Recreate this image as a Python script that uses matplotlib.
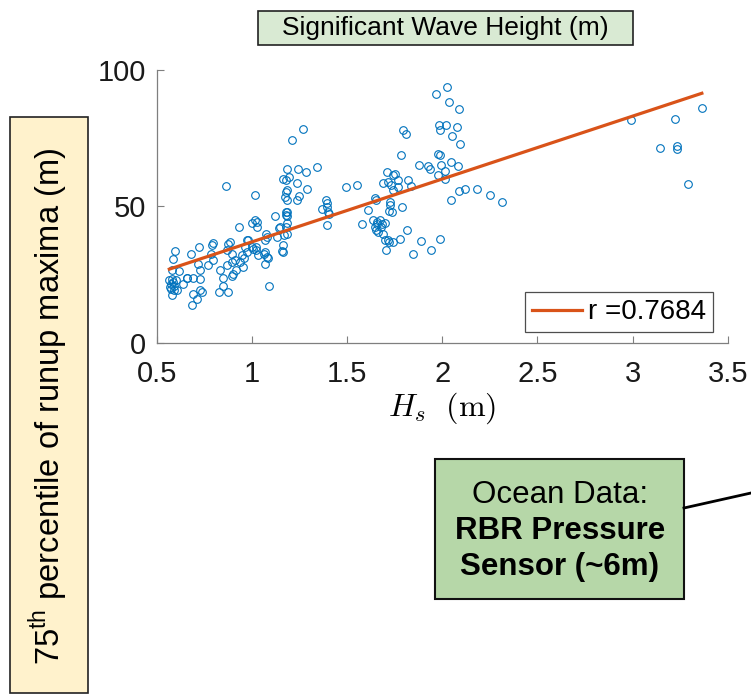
"""Scatter of 75th percentile runup maxima against significant wave height."""

import matplotlib

matplotlib.use("Agg")
import matplotlib.pyplot as plt
from matplotlib.lines import Line2D
from matplotlib.patches import Rectangle

plt.rcParams["font.family"] = ["Liberation Sans", "DejaVu Sans"]
plt.rcParams["mathtext.fontset"] = "custom"
plt.rcParams["mathtext.rm"] = "Liberation Sans"

# wave height Hs (m) and 75th percentile runup maxima
hs_low = [0.595, 0.586, 0.577, 0.565, 0.577, 0.585, 0.598, 0.572, 0.568, 0.592,
          0.580, 0.588, 0.575, 0.603, 0.617, 0.635, 0.677, 0.656, 0.691, 0.726,
          0.726, 0.722, 0.687, 0.708, 0.682, 0.726, 0.735, 0.770, 0.787, 0.792,
          0.782, 0.796, 0.831, 0.827, 0.848, 0.848, 0.875, 0.862, 0.875, 0.883,
          0.869, 0.892, 0.866, 0.892, 0.901, 0.892, 0.910, 0.918, 0.932, 0.936,
          0.945, 0.953, 0.971, 0.974, 0.962, 0.715, 0.660]
runup_low = [33.5, 30.6, 26.8, 22.9, 23.5, 22.3, 22.9, 21.5, 20.5, 19.3,
             17.4, 21.0, 19.8, 19.3, 26.3, 21.7, 32.4, 23.9, 23.9, 23.5,
             26.8, 35.1, 18.0, 15.9, 13.8, 19.3, 18.7, 28.4, 35.7, 36.6,
             32.7, 30.2, 26.8, 18.7, 20.7, 23.9, 18.7, 57.3, 36.3, 37.0,
             34.1, 32.7, 28.4, 29.6, 25.4, 24.4, 30.2, 26.6, 42.4, 29.6,
             32.1, 27.8, 33.3, 37.6, 35.1, 29.0, 23.9]

hs_mid = [1.006, 1.015, 1.015, 1.027, 1.023, 1.027, 1.032, 1.067, 1.072, 1.076,
          1.062, 1.085, 1.067, 1.090, 1.067, 1.120, 1.132, 1.143, 1.146, 1.160,
          1.155, 1.163, 1.169, 1.181, 1.178, 1.181, 1.181, 1.184, 1.181, 1.172,
          1.178, 1.181, 1.178, 1.164, 1.181, 1.195, 1.234, 1.242, 1.281, 1.291,
          1.237, 1.244, 1.212, 1.265, 1.339, 1.388, 1.392, 1.370, 1.400, 1.392,
          1.405, 1.392, 0.980, 1.000, 1.000, 1.020, 0.960, 1.080, 1.180, 1.176]
runup_mid = [34.5, 54.0, 44.9, 44.3, 33.9, 42.4, 32.1, 33.3, 39.8, 38.8,
             32.7, 30.9, 29.0, 20.9, 37.6, 46.3, 38.8, 42.1, 42.4, 33.3,
             33.5, 35.7, 39.4, 40.0, 42.4, 43.9, 46.3, 47.9, 52.2, 53.4,
             55.2, 56.1, 59.8, 59.9, 63.8, 60.7, 58.5, 63.8, 62.6, 56.5,
             52.4, 53.7, 74.1, 78.2, 64.4, 52.2, 51.2, 49.1, 47.9, 49.8,
             47.1, 43.0, 37.6, 44.0, 35.0, 35.0, 31.0, 31.5, 48.0, 46.8]

hs_high = [1.496, 1.552, 1.580, 1.610, 1.645, 1.650, 1.636, 1.654, 1.655, 1.645,
           1.650, 1.662, 1.685, 1.706, 1.697, 1.710, 1.715, 1.689, 1.750, 1.741,
           1.767, 1.732, 1.741, 1.820, 1.837, 1.767, 1.785, 1.794, 1.808, 1.671,
           1.697, 1.680, 1.689, 1.724, 1.727, 1.738, 1.790, 1.815, 1.715, 1.741,
           1.780, 1.890, 1.846, 1.943, 1.990, 1.878, 1.925, 1.937, 1.966, 2.025,
           2.034, 2.088, 1.985, 2.019, 1.988, 2.077, 2.053, 2.092, 1.978, 1.990,
           2.044, 1.995, 2.013, 2.081, 1.978, 2.013, 2.085, 2.118, 2.180, 2.248,
           2.316, 2.044, 1.720, 1.720,
           2.992, 3.222, 3.364, 3.145, 3.233, 3.233, 3.292]
runup_high = [57.1, 57.9, 43.4, 48.5, 53.2, 52.2, 44.9, 44.3, 43.4, 42.4,
              41.2, 40.6, 43.7, 33.9, 37.6, 62.6, 58.9, 58.5, 62.0, 61.3,
              59.8, 57.7, 55.9, 59.5, 57.3, 57.1, 68.7, 77.8, 76.3, 44.9,
              43.9, 42.4, 40.0, 51.6, 50.4, 47.9, 49.8, 41.2, 37.6, 37.0,
              38.2, 37.3, 32.7, 34.1, 37.9, 65.0, 64.6, 63.8, 91.0, 93.7,
              88.2, 85.7, 79.6, 79.6, 78.0, 79.0, 75.6, 72.9, 69.3, 68.7,
              66.2, 65.0, 62.9, 64.8, 61.6, 60.1, 55.5, 56.5, 56.5, 54.3,
              51.6, 52.2, 48.4, 37.0,
              81.7, 81.8, 86.1, 71.5, 72.0, 71.0, 58.3]

hs = hs_low + hs_mid + hs_high
runup = runup_low + runup_mid + runup_high

# linear fit as drawn in the figure
fit_slope = 23.0
fit_intercept = 14.0
fit_label = "r =0.7684"

x_ticks = [0.5, 1, 1.5, 2, 2.5, 3, 3.5]
x_tick_labels = ["0.5", "1", "1.5", "2", "2.5", "3", "3.5"]
y_ticks = [0, 50, 100]

W, H = 751, 697


def fx(px):
    return px / W


def fy(py):
    return 1 - py / H


fig = plt.figure(figsize=(7.51, 6.97), dpi=100)
ax = fig.add_axes([0.209, 0.508, 0.760, 0.392])

ax.plot(hs, runup, "o", markerfacecolor="none", markeredgecolor="#0072BD",
        markersize=5.5, markeredgewidth=0.8, linestyle="none")
x_fit = [min(hs), max(hs)]
y_fit = [fit_intercept + fit_slope * v for v in x_fit]
ax.plot(x_fit, y_fit, color="#D95319", linewidth=2.3, label=fit_label)

ax.set_xlim(0.5, 3.5)
ax.set_ylim(0, 100)
ax.set_xticks(x_ticks)
ax.set_xticklabels(x_tick_labels)
ax.set_yticks(y_ticks)
for side in ["top", "right"]:
    ax.spines[side].set_visible(False)
for side in ["left", "bottom"]:
    ax.spines[side].set_color("#7f7f7f")
    ax.spines[side].set_linewidth(0.9)
ax.tick_params(direction="in", length=5, width=0.8, color="#7f7f7f",
               labelsize=21, labelcolor="#1a1a1a")
ax.tick_params(axis="y", pad=8)
ax.tick_params(axis="x", pad=12)
ax.set_xlabel(r"$H_s\ \ \mathrm{(m)}$", fontsize=23, math_fontfamily="cm",
              labelpad=2)

leg = ax.legend(loc="lower right", fontsize=20, frameon=True, fancybox=False,
                handlelength=1.8, handletextpad=0.2, borderpad=0.25,
                borderaxespad=0.0, bbox_to_anchor=(0.9737, 0.039))
leg.get_frame().set_edgecolor("#222222")
leg.get_frame().set_linewidth(0.9)

# title box
fig.patches.append(Rectangle((fx(258), fy(45)), 375 / W, 34 / H,
                             transform=fig.transFigure, facecolor="#d9ead3",
                             edgecolor="#222222", linewidth=1.2))
fig.text(fx(445.5), fy(28), "Significant Wave Height (m)", fontsize=19,
         ha="center", va="center")

# y label box
fig.patches.append(Rectangle((fx(10), fy(693)), 78 / W, 576 / H,
                             transform=fig.transFigure, facecolor="#fff2cc",
                             edgecolor="#222222", linewidth=1.2))
fig.text(fx(48), fy(406),
         r"75$^{\mathrm{th}}$ percentile of runup maxima (m)",
         fontsize=23.5, rotation=90, ha="center", va="center")

# ocean data box
fig.patches.append(Rectangle((fx(435), fy(599)), 249 / W, 140 / H,
                             transform=fig.transFigure, facecolor="#b6d7a8",
                             edgecolor="#111111", linewidth=1.5))
fig.text(fx(560), fy(495), "Ocean Data:", fontsize=22.5,
         ha="center", va="center")
fig.text(fx(560), fy(531), "RBR Pressure", fontsize=22.5,
         fontweight="bold", ha="center", va="center")
fig.text(fx(560), fy(567), "Sensor (~6m)", fontsize=22.5,
         fontweight="bold", ha="center", va="center")
fig.lines.append(Line2D([fx(684), 1.0], [fy(508), fy(493)],
                        transform=fig.transFigure, color="black", linewidth=2))

fig.savefig("out.png", dpi=100)
